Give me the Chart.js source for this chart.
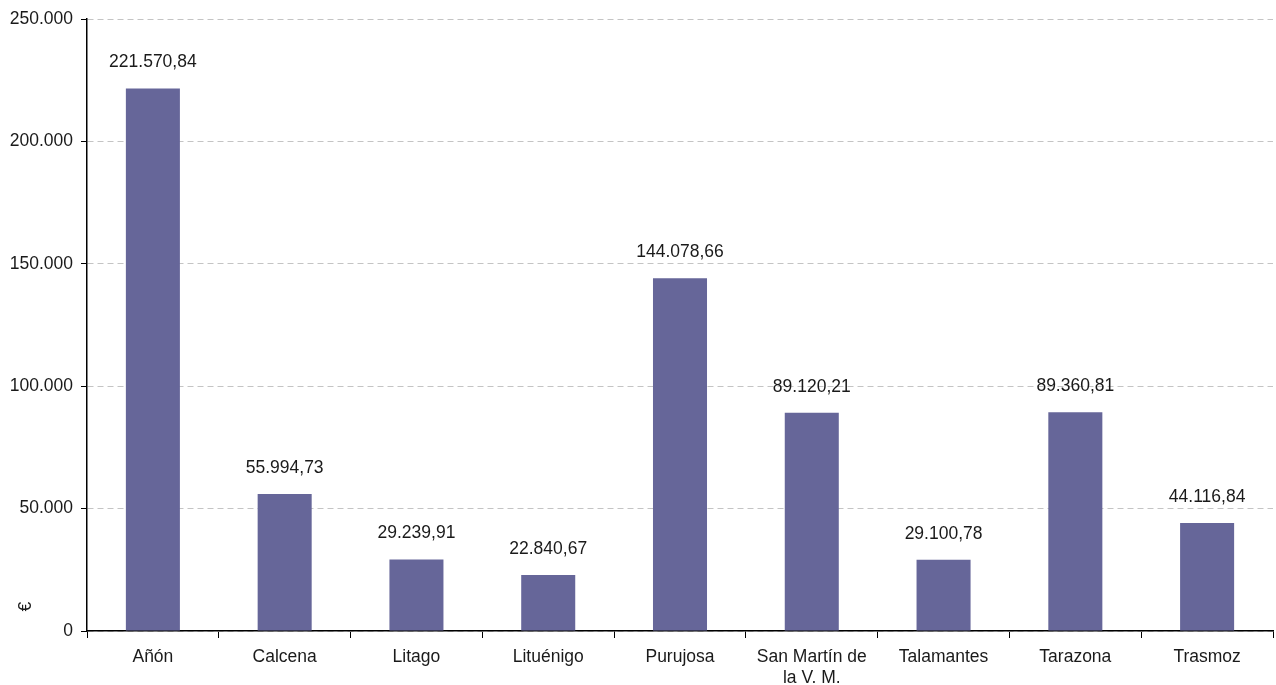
<!DOCTYPE html>
<html>
<head>
<meta charset="utf-8">
<script src="https://cdn.jsdelivr.net/npm/chart.js@4.4.1/dist/chart.umd.min.js"></script>
<style>
    html, body { margin: 0; padding: 0; background: #ffffff; }
    #wrap { width: 1276px; height: 685px; }
</style>
</head>
<body>
<div id="wrap"><canvas id="graph"></canvas></div>
<script>
// Chart data
const categories = [
    'Añón',
    'Calcena',
    'Litago',
    'Lituénigo',
    'Purujosa',
    ['San Martín de', 'la V. M.'],
    'Talamantes',
    'Tarazona',
    'Trasmoz'
];
const values = [221570.84, 55994.73, 29239.91, 22840.67, 144078.66, 89120.21, 29100.78, 89360.81, 44116.84];
const yTicks = [0, 50000, 100000, 150000, 200000, 250000];

// Spanish number format: 221.570,84
function formatNumber(v, decimals) {
    const parts = v.toFixed(decimals).split('.');
    const whole = parts[0].replace(/\B(?=(\d{3})+(?!\d))/g, '.');
    return parts.length > 1 ? whole + ',' + parts[1] : whole;
}

// Draw the value above each bar
const valueLabels = {
    id: 'valueLabels',
    afterDatasetsDraw(chart) {
        const ctx = chart.ctx;
        const meta = chart.getDatasetMeta(0);
        ctx.save();
        ctx.font = '17.5px "Liberation Sans", Arial, sans-serif';
        ctx.fillStyle = '#1a1a1a';
        ctx.textAlign = 'center';
        ctx.textBaseline = 'middle';
        meta.data.forEach((bar, i) => {
            ctx.fillText(formatNumber(values[i], 2), bar.x, bar.y - 26);
        });
        ctx.restore();
    }
};

Chart.defaults.font.family = '"Liberation Sans", Arial, sans-serif';
Chart.defaults.font.size = 17.5;
Chart.defaults.color = '#1a1a1a';

new Chart(document.getElementById('graph'), {
    type: 'bar',
    data: {
        labels: categories,
        datasets: [{
            data: values,
            backgroundColor: '#666699',
            barPercentage: 0.41,
            categoryPercentage: 1.0
        }]
    },
    options: {
        responsive: true,
        maintainAspectRatio: false,
        animation: false,
        layout: { padding: { top: 19, right: 3, left: 0, bottom: 0 } },
        plugins: {
            legend: { display: false },
            tooltip: { enabled: false }
        },
        scales: {
            x: {
                offset: true,
                grid: {
                    offset: true,
                    drawOnChartArea: false,
                    tickLength: 7,
                    tickColor: '#000000'
                },
                border: { color: '#000000', width: 1.5 },
                ticks: { padding: 9, maxRotation: 0, autoSkip: false },
                afterFit(scale) { scale.height = 54; }
            },
            y: {
                min: 0,
                max: 250000,
                afterBuildTicks(scale) {
                    scale.ticks = yTicks.map(v => ({ value: v }));
                },
                ticks: {
                    padding: 8,
                    callback: v => formatNumber(v, 0)
                },
                grid: {
                    color: '#c4c4c4',
                    tickBorderDash: [],
                    tickColor: '#000000',
                    tickLength: 6
                },
                border: { color: '#000000', width: 1.5, dash: [6, 4] },
                title: {
                    display: true,
                    text: '    €',
                    align: 'start',
                    padding: { top: 16, bottom: 0 },
                    font: { size: 17.5 }
                },
                afterFit(scale) { scale.width = 87; }
            }
        }
    },
    plugins: [valueLabels]
});
</script>
</body>
</html>
